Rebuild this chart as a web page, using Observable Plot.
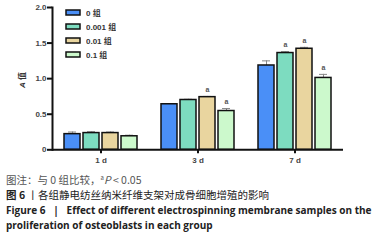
<!DOCTYPE html>
<html><head><meta charset="utf-8">
<script src="https://cdn.jsdelivr.net/npm/d3@7"></script>
<script src="https://cdn.jsdelivr.net/npm/@observablehq/plot@0.6"></script>
<style>
html,body{margin:0;padding:0;background:#fff;}
body{width:378px;height:241px;overflow:hidden;font-family:"Liberation Sans","Noto Sans CJK SC",sans-serif;}
#wrap{position:relative;width:378px;height:241px;}
#chart{position:absolute;left:0;top:0;}
#leg{position:absolute;left:66px;top:6px;}
#leg .lg-swatch{display:flex;align-items:center;height:13.8px;margin:0;padding:0;font:8px "Liberation Sans","Noto Sans CJK SC",sans-serif;color:#333;font-weight:bold;}
#leg svg{overflow:visible;margin-right:6px;}
#leg svg rect{stroke:#111;stroke-width:1.5px;}
#ylab{position:absolute;left:21px;top:80px;transform:translate(-50%,-50%) rotate(-90deg);font:bold 8px "Liberation Sans","Noto Sans CJK SC",sans-serif;color:#333;white-space:nowrap;}
#cap{position:absolute;left:6px;top:172px;width:372px;}
.l{height:15.4px;line-height:15.4px;white-space:pre;}
.cn{font:10.5px "Noto Sans CJK SC",sans-serif;}
.l1{color:#555;}
.l2{color:#222;}
.en{font:bold 10px "Open Sans",sans-serif;color:#222;}
sup{font-size:6px;vertical-align:4px;line-height:0;}
</style>
</head><body>
<div id="wrap">
  <div id="chart"></div>
  <div id="leg"></div>
  <div id="ylab"><i>A</i> 值</div>
  <div id="cap">
    <div class="l cn l1">图注：与 0 组比较，<sup>a</sup><i>P</i> &lt; 0.05</div>
    <div class="l cn l2"><b>图 6</b> 丨各组静电纺丝纳米纤维支架对成骨细胞增殖的影响</div>
    <div class="l en">Figure 6   |   Effect of different electrospinning membrane samples on the</div>
    <div class="l en">proliferation of osteoblasts in each group</div>
  </div>
</div>
<script>
const days = ["1 d", "3 d", "7 d"];
const groups = ["0 组", "0.001 组", "0.01 组", "0.1 组"];
const groupColors = ["#4a8ff7", "#7ddcc0", "#e9d59f", "#ccf9cc"];
const yTicks = [0, 0.5, 1.0, 1.5, 2.0];
const yTickLabels = ["0", "0.5", "1.0", "1.5", "2.0"];

// mean values per group over days
const mean0 = [0.22, 0.64, 1.185];
const mean001 = [0.235, 0.70, 1.36];
const mean01 = [0.235, 0.74, 1.42];
const mean1 = [0.19, 0.545, 1.01];
// upper error (SD)
const err0 = [0.03, 0.01, 0.065];
const err001 = [0.02, 0.01, 0.02];
const err01 = [0.015, 0.01, 0.02];
const err1 = [0.015, 0.035, 0.05];
// significance marks
const sig0 = ["", "", ""];
const sig001 = ["", "", "a"];
const sig01 = ["", "a", "a"];
const sig1 = ["", "a", "a"];

const means = [mean0, mean001, mean01, mean1];
const errs = [err0, err001, err01, err1];
const sigs = [sig0, sig001, sig01, sig1];

const rows = [];
days.forEach((day, di) => {
  groups.forEach((g, gi) => {
    rows.push({day, group: g, mean: means[gi][di], err: errs[gi][di], sig: sigs[gi][di]});
  });
});
const topOf = d => d.mean + d.err;

const chart = Plot.plot({
  width: 378,
  height: 170,
  marginLeft: 51,
  marginRight: 35,
  marginTop: 7,
  marginBottom: 20.7,
  style: {fontFamily: '"Liberation Sans","Noto Sans CJK SC",sans-serif', background: "transparent"},
  fx: {domain: days, padding: 0, label: null},
  x: {domain: groups, paddingInner: 0.175, paddingOuter: 0.52, axis: null},
  y: {domain: [0, 2], label: null},
  color: {domain: groups, range: groupColors},
  marks: [
    Plot.ruleX(rows, {fx: "day", x: "group", y1: "mean", y2: topOf, stroke: "#888", strokeWidth: 1}),
    Plot.tickY(rows, {fx: "day", x: "group", y: topOf, stroke: "#888", strokeWidth: 1, insetLeft: 4, insetRight: 4}),
    Plot.barY(rows, {fx: "day", x: "group", y: "mean", fill: "group", stroke: "#111", strokeWidth: 1.5}),
    Plot.text(rows.filter(d => d.sig), {fx: "day", x: "group", y: topOf, text: "sig", dy: -7, fontSize: 7, fontWeight: "bold", fill: "#555"}),
    Plot.ruleY([0], {strokeWidth: 2, stroke: "#111"}),
    Plot.frame({anchor: "left", facetAnchor: "left", strokeWidth: 2, stroke: "#111"}),
    Plot.axisY({ticks: yTicks, tickFormat: d => yTickLabels[yTicks.indexOf(d)], tickSize: 5, tickPadding: 1, strokeWidth: 2, stroke: "#111", fontSize: 8, fontWeight: "bold", fill: "#444", label: null}),
    Plot.axisFx({anchor: "bottom", tickSize: 4, tickPadding: 4, strokeWidth: 2, stroke: "#111", fontSize: 8, fontWeight: "bold", fill: "#444", label: null})
  ]
});
document.getElementById("chart").appendChild(chart);

const leg = chart.legend("color", {columns: 1, swatchWidth: 14, swatchHeight: 5, className: "lg"});
document.getElementById("leg").appendChild(leg);
</script>
</body></html>
